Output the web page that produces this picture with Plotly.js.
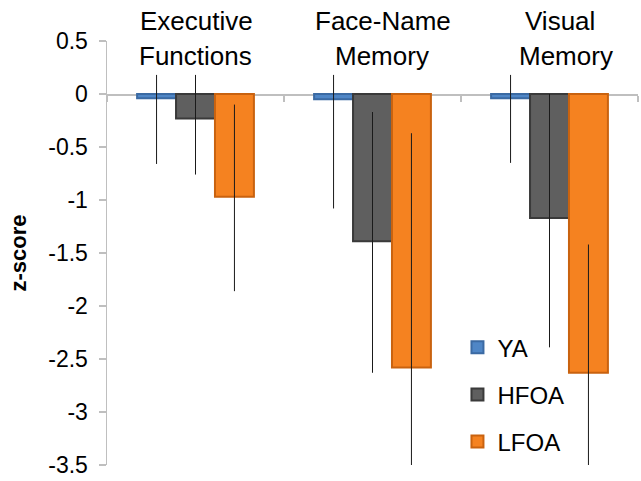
<!DOCTYPE html>
<html>
<head>
<meta charset="utf-8">
<script src="https://cdn.plot.ly/plotly-3.0.1.min.js"></script>
<style>html,body{margin:0;padding:0;background:#fff;}#chart{width:641px;height:481px;}</style>
</head>
<body>
<div id="chart"></div>
<script>
// ---- data ----
const categories = ['Executive Functions', 'Face-Name Memory', 'Visual Memory'];
const catLine1 = ['Executive', 'Face-Name', 'Visual'];
const catLine2 = ['Functions', 'Memory', 'Memory'];
const seriesNames = ['YA', 'HFOA', 'LFOA'];

const YA   = [-0.04, -0.05, -0.04];
const HFOA = [-0.23, -1.39, -1.17];
const LFOA = [-0.97, -2.58, -2.63];

const YA_errPlus   = [0.22, 0.23, 0.22];
const YA_errMinus  = [0.62, 1.03, 0.61];
const HFOA_errPlus  = [0.41, 1.22, 1.17];
const HFOA_errMinus = [0.53, 1.24, 1.22];
const LFOA_errPlus  = [0.87, 2.21, 1.21];
const LFOA_errMinus = [0.89, 2.21, 1.21];

const yTickVals = [0.5, 0, -0.5, -1, -1.5, -2, -2.5, -3, -3.5];
const yTickText = ['0.5', '0', '-0.5', '-1', '-1.5', '-2', '-2.5', '-3', '-3.5'];

// ---- styles ----
const FONT = '"Liberation Sans", Arial, Helvetica, sans-serif';
const fills = ['#4f86c6', '#5f5f5f', '#f58220'];
const edges = ['#3b6aa3', '#3a3a3a', '#c9620f'];
const values = [YA, HFOA, LFOA];
const errP = [YA_errPlus, HFOA_errPlus, LFOA_errPlus];
const errM = [YA_errMinus, HFOA_errMinus, LFOA_errMinus];

const traces = seriesNames.map((name, i) => ({
  type: 'bar',
  name: name,
  x: categories,
  y: values[i],
  legendgroup: name,
  marker: {color: fills[i], line: {color: edges[i], width: 2}},
  error_y: {
    type: 'data', symmetric: false,
    array: errP[i], arrayminus: errM[i],
    color: '#1a1a1a', thickness: 1, width: 0
  }
}));

const line1Shift = [1, 10, 10];
const line2Shift = [0, 9, 16];
const annotations = [];
categories.forEach((c, i) => {
  annotations.push({x: c, xref: 'x', y: 1.047, yref: 'paper', text: catLine1[i],
    showarrow: false, xanchor: 'center', yanchor: 'middle', xshift: line1Shift[i],
    font: {family: FONT, size: 26, color: '#000'}});
  annotations.push({x: c, xref: 'x', y: 0.965, yref: 'paper', text: catLine2[i],
    showarrow: false, xanchor: 'center', yanchor: 'middle', xshift: line2Shift[i],
    font: {family: FONT, size: 26, color: '#000'}});
});

const layout = {
  width: 641, height: 481,
  margin: {l: 107, r: 3, t: 41, b: 16},
  paper_bgcolor: '#fff', plot_bgcolor: '#fff',
  font: {family: FONT, color: '#000'},
  barmode: 'group', bargap: 0.34, bargroupgap: 0,
  showlegend: true,
  legend: {
    x: 0.66, xanchor: 'left', y: 0.33, yanchor: 'top',
    font: {family: FONT, size: 24, color: '#000'},
    traceorder: 'grouped', tracegroupgap: 13,
    bgcolor: 'rgba(0,0,0,0)', itemwidth: 30
  },
  xaxis: {
    type: 'category', anchor: 'free', position: 0.875,
    showline: true, linecolor: '#bfbfbf', linewidth: 1.5,
    ticks: 'outside', tickson: 'boundaries', ticklen: 6, tickcolor: '#bfbfbf', tickwidth: 1.5,
    showticklabels: false, showgrid: false, zeroline: false,
    layer: 'below traces', fixedrange: true
  },
  yaxis: {
    range: [-3.5, 0.5], tickvals: yTickVals, ticktext: yTickText,
    showline: true, linecolor: '#bfbfbf', linewidth: 1.5,
    ticks: 'outside', ticklen: 7, tickcolor: '#bfbfbf', tickwidth: 1.5,
    ticklabelstandoff: 6,
    showgrid: false, zeroline: false,
    tickfont: {family: FONT, size: 23, color: '#000'},
    title: {text: '<b>z-score</b>', font: {family: FONT, size: 22, color: '#000'}, standoff: 15},
    automargin: false
  },
  annotations: annotations
};

Plotly.newPlot('chart', traces, layout, {displayModeBar: false, staticPlot: true});
</script>
</body>
</html>
